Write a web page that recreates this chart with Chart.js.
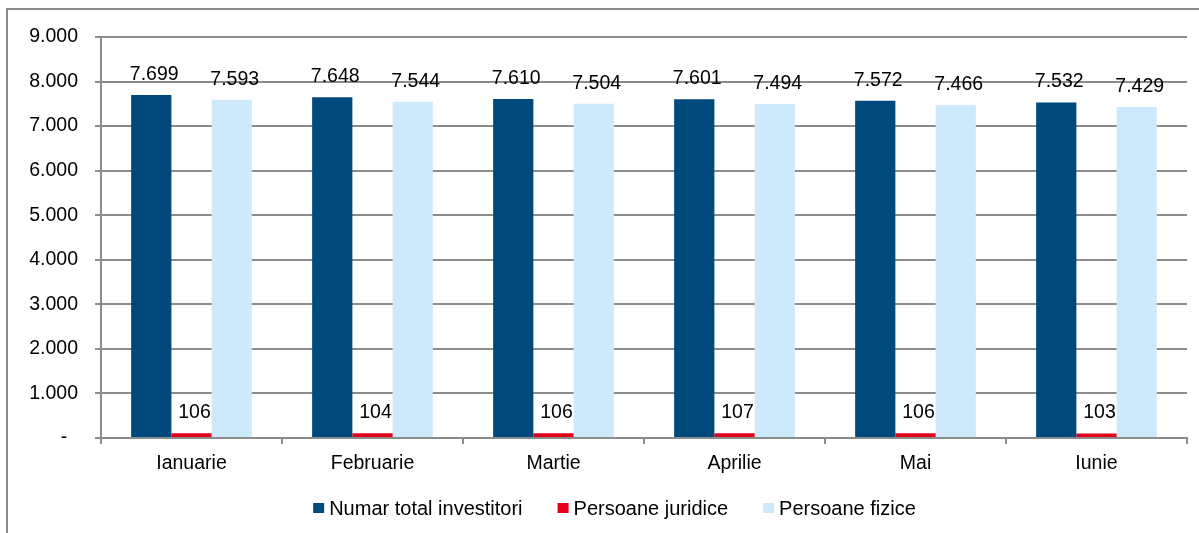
<!DOCTYPE html>
<html>
<head>
<meta charset="utf-8">
<script src="https://cdn.jsdelivr.net/npm/chart.js@4/dist/chart.umd.min.js"></script>
<style>
  html, body { margin: 0; padding: 0; background: #fff; overflow: hidden; }
  .frame {
    position: absolute; left: 6px; top: 8px; width: 1300px; height: 600px;
    border-left: 2px solid #8c8c8c; border-top: 2px solid #8c8c8c;
  }
  .wrap { position: absolute; left: 0; top: 0; width: 1189px; height: 533px; }
</style>
</head>
<body>
<div class="frame"></div>
<div class="wrap"><canvas id="chart"></canvas></div>
<script>
const months = ['Ianuarie', 'Februarie', 'Martie', 'Aprilie', 'Mai', 'Iunie'];
const totalInvestitori = [7699, 7648, 7610, 7601, 7572, 7532];
const persoaneJuridice = [106, 104, 106, 107, 106, 103];
const persoaneFizice = [7593, 7544, 7504, 7494, 7466, 7429];

const fmt = (v) => {
  if (v === 0) return '-  ';
  return String(v).replace(/\B(?=(\d{3})+(?!\d))/g, '.');
};

const gray = '#8c8c8c';
const family = "'Liberation Sans', Arial, sans-serif";
const font = { family: family, size: 19.5 };

// value labels above each bar
const barLabels = {
  id: 'barLabels',
  afterDatasetsDraw(chart) {
    const ctx = chart.ctx;
    ctx.save();
    ctx.font = `19.5px ${family}`;
    ctx.fillStyle = '#000';
    ctx.textAlign = 'center';
    ctx.textBaseline = 'alphabetic';
    chart.data.datasets.forEach((ds, i) => {
      chart.getDatasetMeta(i).data.forEach((bar, j) => {
        ctx.fillText(fmt(ds.data[j]), bar.x + 3, bar.y - 15);
      });
    });
    ctx.restore();
  }
};

// excel-like legend under the axis
const bottomLegend = {
  id: 'bottomLegend',
  afterDraw(chart) {
    const ctx = chart.ctx;
    const sets = chart.data.datasets;
    ctx.save();
    ctx.font = `20px ${family}`;
    ctx.textBaseline = 'middle';
    const box = 11, gap = 5, spacing = 35;
    const widths = sets.map((ds) => box + gap + ctx.measureText(ds.label).width);
    const total = widths.reduce((a, b) => a + b, 0) + spacing * (sets.length - 1);
    let x = 614.5 - total / 2;
    const y = 508;
    sets.forEach((ds, i) => {
      ctx.fillStyle = ds.backgroundColor;
      ctx.fillRect(x, y - 5, box, 10);
      ctx.fillStyle = '#000';
      ctx.fillText(ds.label, x + box + gap, y + 1);
      x += widths[i] + spacing;
    });
    ctx.restore();
  }
};

Chart.defaults.font.family = family;
Chart.defaults.color = '#000';

new Chart(document.getElementById('chart'), {
  type: 'bar',
  data: {
    labels: months,
    datasets: [
      { label: 'Numar total investitori', data: totalInvestitori, backgroundColor: '#00497c' },
      { label: 'Persoane juridice', data: persoaneJuridice, backgroundColor: '#e2001a' },
      { label: 'Persoane fizice', data: persoaneFizice, backgroundColor: '#cceafb' },
    ],
  },
  options: {
    responsive: true,
    maintainAspectRatio: false,
    animation: false,
    layout: { padding: { top: 37, right: 2, bottom: 55, left: 0 } },
    datasets: { bar: { categoryPercentage: 0.667, barPercentage: 1 } },
    scales: {
      x: {
        grid: { offset: true, drawOnChartArea: false, drawTicks: true, tickLength: 6, color: gray, lineWidth: 2 },
        border: { color: gray, width: 2 },
        ticks: { font: font, padding: 8, color: '#000' },
        afterFit(scale) { scale.height = 40; },
      },
      y: {
        min: 0,
        max: 9000,
        ticks: { stepSize: 1000, font: font, padding: 17, color: '#000', callback: (v) => fmt(v) },
        grid: { color: gray, lineWidth: 2, tickLength: 6 },
        border: { color: gray, width: 2 },
        afterFit(scale) { scale.width = 101; },
      },
    },
    plugins: {
      legend: { display: false },
      tooltip: { enabled: false },
    },
  },
  plugins: [barLabels, bottomLegend],
});
</script>
</body>
</html>
